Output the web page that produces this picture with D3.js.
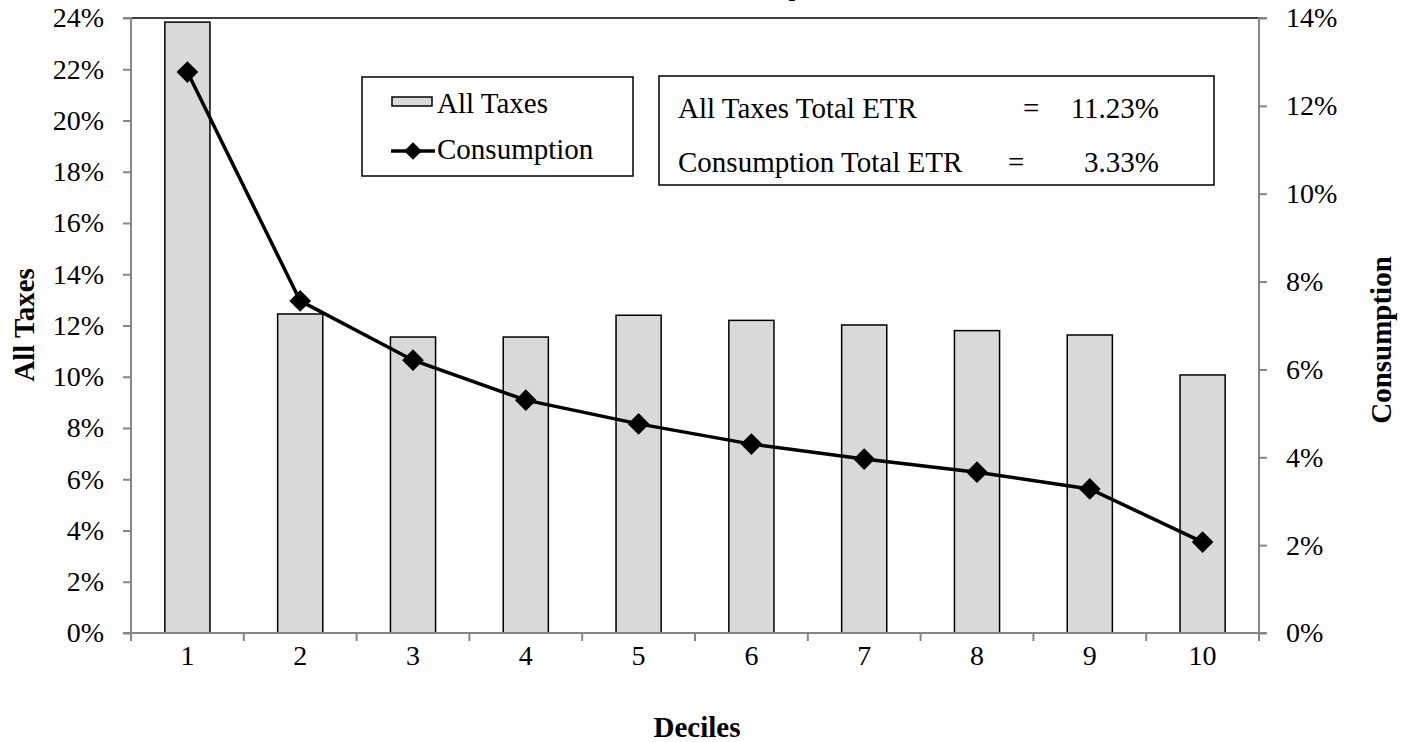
<!DOCTYPE html>
<html><head><meta charset="utf-8">
<script src="https://cdn.jsdelivr.net/npm/d3@7"></script>
<style>
body{margin:0;background:#fff;}
text{font-family:"Liberation Serif","Times New Roman",serif;fill:#000;}
</style></head>
<body><svg id="c" width="1403" height="742"></svg>
<script>
const categories = ["1","2","3","4","5","6","7","8","9","10"];
const allTaxes = [23.84, 12.45, 11.55, 11.55, 12.4, 12.2, 12.02, 11.8, 11.63, 10.07];
const consumption = [12.77, 7.56, 6.21, 5.30, 4.76, 4.30, 3.96, 3.66, 3.28, 2.07];
const leftTicks = [0,2,4,6,8,10,12,14,16,18,20,22,24];
const rightTicks = [0,2,4,6,8,10,12,14];
const legendLabels = ["All Taxes","Consumption"];
const etrLabels = ["All Taxes Total ETR","Consumption Total ETR"];
const etrValues = ["11.23%","3.33%"];

const svg = d3.select("#c");
const L=131, R=1259, T=18, B=633;
const FS=28;
const x = d3.scaleBand().domain(categories).range([L,R]).paddingInner(0.6).paddingOuter(0.3);
const xb = d3.scaleBand().domain(categories).range([L,R]);
const yL = d3.scaleLinear().domain([0,24]).range([B,T]);
const yR = d3.scaleLinear().domain([0,14]).range([B,T]);

// title (clipped at top, as in the reference)
svg.append("text").attr("x",597).attr("y",-4).style("font-size","24px").attr("font-weight","bold").text("All Taxes, Consumption");

// plot frame
svg.append("rect").attr("x",L).attr("y",T).attr("width",R-L).attr("height",B-T).attr("fill","none").attr("stroke","#000").attr("stroke-width",1.5);

// bars
svg.selectAll("rect.bar").data(categories).enter().append("rect")
 .attr("x",d=>x(d)).attr("width",x.bandwidth())
 .attr("y",(d,i)=>yL(allTaxes[i])).attr("height",(d,i)=>B-yL(allTaxes[i]))
 .attr("fill","#d9d9d9").attr("stroke","#000").attr("stroke-width",1.5);

// axes
const gray="#868686";
const ga = svg.append("g").attr("transform",`translate(${L},0)`).call(d3.axisLeft(yL).tickValues(leftTicks).tickSize(8).tickPadding(19).tickFormat(d=>d+"%"));
const gr = svg.append("g").attr("transform",`translate(${R},0)`).call(d3.axisRight(yR).tickValues(rightTicks).tickSize(8).tickPadding(19).tickFormat(d=>d+"%"));
const gx = svg.append("g").attr("transform",`translate(0,${B})`).call(d3.axisBottom(xb).tickSize(0).tickPadding(12));
[ga,gr,gx].forEach(g=>{
  g.attr("font-size",null).attr("font-family",null);
  g.select(".domain").attr("stroke",gray).attr("stroke-width",2);
  g.selectAll(".tick line").attr("stroke",gray).attr("stroke-width",2);
  g.selectAll("text").style("font-size",FS+"px").style("font-family","'Liberation Serif', serif").attr("fill","#000");
});
ga.select(".domain").attr("d",`M-8,${T}H0V${B}H-8`);
gr.select(".domain").attr("d",`M8,${T}H0V${B}H8`);
gx.select(".domain").attr("d",`M${L-8},0H${R+8}`);
gx.selectAll(".tick text").attr("dy","0.71em");
// x boundary ticks
svg.append("g").selectAll("line").data(d3.range(categories.length+1)).enter().append("line")
 .attr("x1",i=>L+i*xb.step()).attr("x2",i=>L+i*xb.step()).attr("y1",B).attr("y2",B+8)
 .attr("stroke",gray).attr("stroke-width",2);

// line
const line = d3.line().x((d,i)=>xb(categories[i])+xb.bandwidth()/2).y(d=>yR(d));
svg.append("path").datum(consumption).attr("d",line).attr("fill","none").attr("stroke","#000").attr("stroke-width",3.5);
const diamond = d3.symbol().type(d3.symbolDiamond2).size(300);
svg.selectAll("path.m").data(consumption).enter().append("path")
 .attr("transform",(d,i)=>`translate(${xb(categories[i])+xb.bandwidth()/2},${yR(d)})`)
 .attr("d",diamond).attr("fill","#000");

// axis titles
svg.append("text").attr("transform","translate(34,325) rotate(-90)").attr("text-anchor","middle").style("font-size","29px").attr("font-weight","bold").text("All Taxes");
svg.append("text").attr("transform","translate(1391,340) rotate(-90)").attr("text-anchor","middle").style("font-size","29px").attr("font-weight","bold").text("Consumption");
svg.append("text").attr("x",697).attr("y",737).attr("text-anchor","middle").style("font-size","29px").attr("font-weight","bold").text("Deciles");

// legend
const lg = svg.append("g");
lg.append("rect").attr("x",362).attr("y",77).attr("width",271).attr("height",99).attr("fill","#fff").attr("stroke","#000").attr("stroke-width",1.5);
lg.append("rect").attr("x",392).attr("y",97).attr("width",40).attr("height",9).attr("fill","#d9d9d9").attr("stroke","#000").attr("stroke-width",1.5);
lg.append("line").attr("x1",391).attr("x2",435).attr("y1",151).attr("y2",151).attr("stroke","#000").attr("stroke-width",3.5);
lg.append("path").attr("transform","translate(413,151)").attr("d",d3.symbol().type(d3.symbolDiamond2).size(200)).attr("fill","#000");
lg.selectAll("text").data(legendLabels).enter().append("text")
 .attr("x",437).attr("y",(d,i)=>113+i*46).style("font-size","29px").text(d=>d);

// ETR box
const eb = svg.append("g");
eb.append("rect").attr("x",659).attr("y",76).attr("width",555).attr("height",109).attr("fill","#fff").attr("stroke","#000").attr("stroke-width",1.5);
eb.selectAll("text.l").data(etrLabels).enter().append("text").attr("x",678).attr("y",(d,i)=>118+i*54).style("font-size","29px").text(d=>d);
eb.selectAll("text.e").data(etrLabels).enter().append("text").attr("x",(d,i)=>i?1008:1023).attr("y",(d,i)=>118+i*54).style("font-size","29px").text("=");
eb.selectAll("text.v").data(etrValues).enter().append("text").attr("x",1159).attr("text-anchor","end").attr("y",(d,i)=>118+i*54).style("font-size","29px").text(d=>d);
</script></body></html>
